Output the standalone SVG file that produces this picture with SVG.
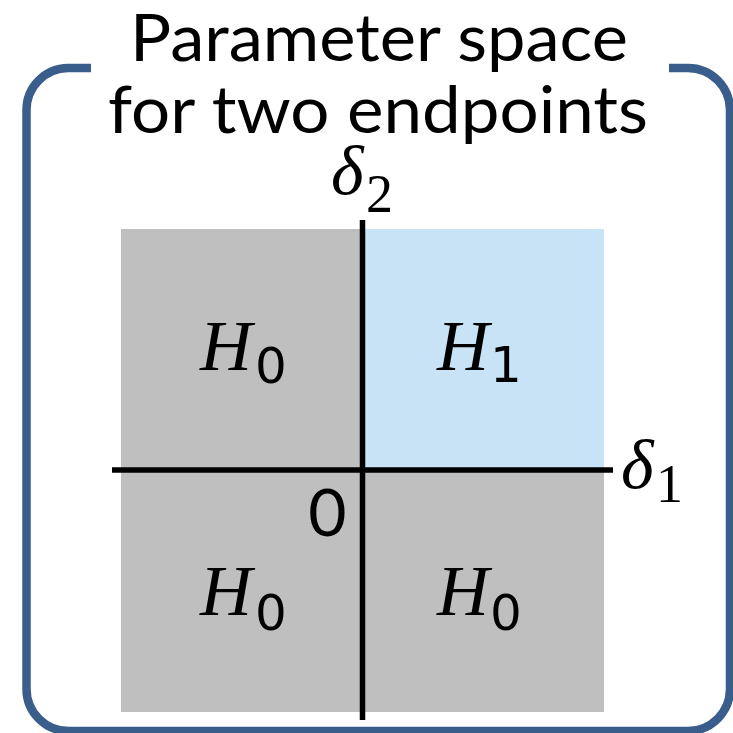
<svg xmlns="http://www.w3.org/2000/svg" width="733" height="733" viewBox="0 0 733 733">
<style>
.title{font-family:Lato,"Open Sans","Liberation Sans",sans-serif;font-size:66px;fill:#000;text-anchor:middle}
.h{font-family:"Liberation Serif","Times New Roman",serif;font-style:italic;font-size:72px;fill:#000}
.hs{font-family:"DejaVu Sans",sans-serif;font-size:50px;fill:#000}
.d{font-family:"Liberation Serif","Times New Roman",serif;font-style:italic;font-size:70px;fill:#000}
.ds{font-family:"Liberation Serif","Times New Roman",serif;font-size:54px;fill:#000}
.axis{stroke:#000;stroke-width:5.5;fill:none}
</style>
<rect width="733" height="733" fill="#fff"/>
<g id="frame">
<path d="M91,68 H68 A42,42 0 0 0 26.5,110 V689 A42,42 0 0 0 68.5,731 H688 A42,42 0 0 0 730,689 V110 A42,42 0 0 0 688,68 H669" fill="none" stroke="#3A5E8C" stroke-width="8.5"/>
</g>
<g id="title">
<text class="title" x="379" y="61" textLength="498" lengthAdjust="spacingAndGlyphs">Parameter space</text>
<text class="title" x="378" y="133" textLength="540" lengthAdjust="spacingAndGlyphs">for two endpoints</text>
</g>
<g id="regions">
<rect id="q-gray" x="121" y="229" width="483" height="483" fill="#BFBFBF"/>
<rect id="q1" x="363" y="229" width="241" height="241" fill="#C9E3F6"/>
</g>
<g id="axes">
<line class="axis" x1="112" y1="470" x2="613" y2="470"/>
<line class="axis" x1="362.5" y1="220" x2="362.5" y2="720"/>
</g>
<g id="label-d2">
<text class="d" x="331" y="194">δ</text>
<text class="ds" x="366" y="212">2</text>
</g>
<g id="label-d1">
<text class="d" x="621" y="488">δ</text>
<text class="ds" x="656" y="502">1</text>
</g>
<g id="origin">
<text class="title" x="327.5" y="536">0</text>
</g>
<g id="h0-tl">
<text class="h" x="200" y="370">H</text>
<text class="hs" x="255" y="383">0</text>
</g>
<g id="h1-tr">
<text class="h" x="437" y="370">H</text>
<text class="hs" x="490" y="382">1</text>
</g>
<g id="h0-bl">
<text class="h" x="200" y="615">H</text>
<text class="hs" x="255" y="630">0</text>
</g>
<g id="h0-br">
<text class="h" x="437" y="615">H</text>
<text class="hs" x="490" y="630">0</text>
</g>
</svg>
